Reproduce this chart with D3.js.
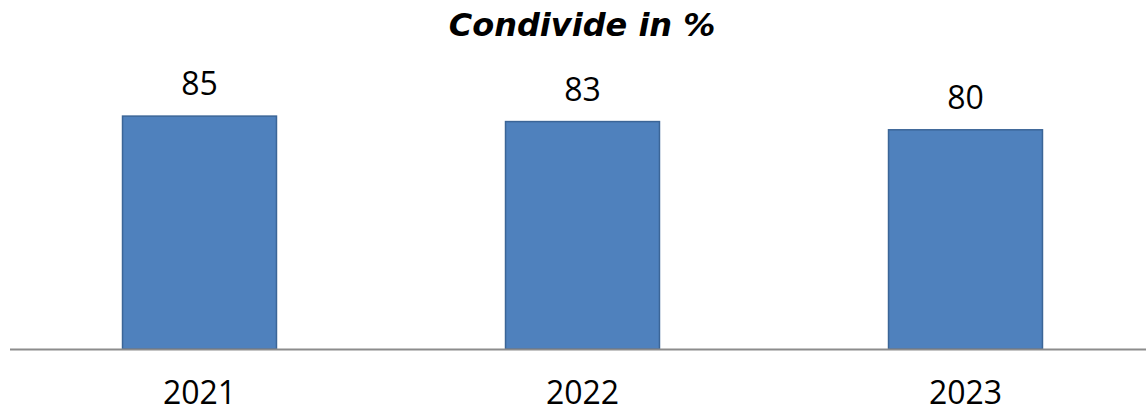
<!DOCTYPE html>
<html>
<head>
<meta charset="utf-8">
<script src="https://cdn.jsdelivr.net/npm/d3@7"></script>
<style>
  body { margin: 0; background: #fff; }
</style>
</head>
<body>
<div id="chart"></div>
<script>
var years = ["2021", "2022", "2023"];
var values = [85, 83, 80];
var title = "Condivide in %";

var width = 1146, height = 412;
var baseY = 349;

var svg = d3.select("#chart").append("svg")
    .attr("width", width)
    .attr("height", height);

var x = d3.scaleBand()
    .domain(years)
    .range([8, 1157])
    .paddingInner(0.598)
    .paddingOuter(0.299);

var y = d3.scaleLinear()
    .domain([0, 100])
    .range([baseY, 75]);

svg.append("text")
    .attr("x", 582)
    .attr("y", 36)
    .attr("text-anchor", "middle")
    .attr("font-family", "DejaVu Sans")
    .attr("font-weight", "bold")
    .attr("font-style", "italic")
    .attr("font-size", 32)
    .text(title);

svg.selectAll(".bar")
    .data(values)
    .enter()
    .append("rect")
    .attr("class", "bar")
    .attr("x", function(d, i) { return x(years[i]); })
    .attr("y", function(d) { return y(d); })
    .attr("width", x.bandwidth())
    .attr("height", function(d) { return baseY - y(d); })
    .attr("fill", "#4f81bd")
    .attr("stroke", "#3b6597")
    .attr("stroke-width", 1.5);

svg.selectAll(".val")
    .data(values)
    .enter()
    .append("text")
    .attr("class", "val")
    .attr("x", function(d, i) { return x(years[i]) + x.bandwidth() / 2; })
    .attr("y", function(d) { return y(d) - 21; })
    .attr("text-anchor", "middle")
    .attr("font-family", "Open Sans")
    .attr("font-size", 32)
    .text(function(d) { return d; });

// baseline
svg.append("line")
    .attr("x1", 10)
    .attr("x2", width)
    .attr("y1", baseY + 0.5)
    .attr("y2", baseY + 0.5)
    .attr("stroke", "#8c8c8c")
    .attr("stroke-width", 2);

svg.selectAll(".yr")
    .data(years)
    .enter()
    .append("text")
    .attr("class", "yr")
    .attr("x", function(d) { return x(d) + x.bandwidth() / 2; })
    .attr("y", 404)
    .attr("text-anchor", "middle")
    .attr("font-family", "Open Sans")
    .attr("font-size", 32)
    .text(function(d) { return d; });
</script>
</body>
</html>
